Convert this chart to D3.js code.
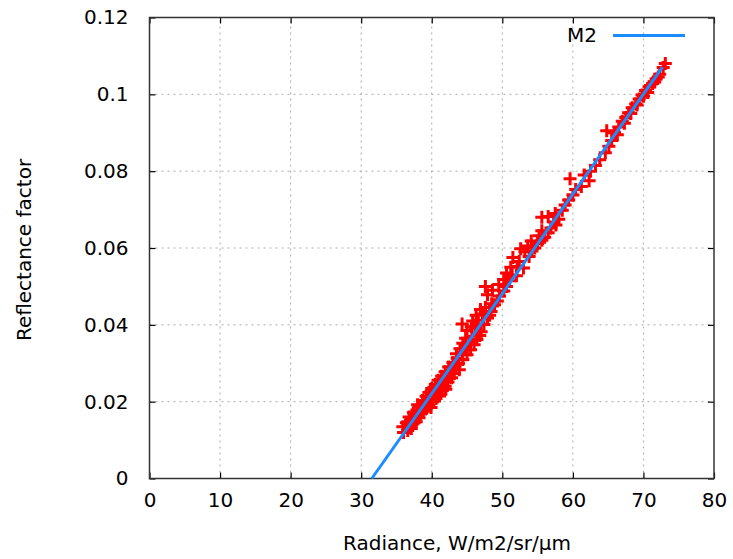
<!DOCTYPE html>
<html>
<head>
<meta charset="utf-8">
<script src="https://cdn.jsdelivr.net/npm/d3@7"></script>
<style>
  body { margin: 0; background: #fff; }
  text { font-family: "DejaVu Sans", sans-serif; fill: #000; }
</style>
</head>
<body>
<svg id="chart"></svg>
<script>
// measured points (radiance, reflectance factor)
const radiance = [
    36.0, 36.6, 35.9, 36.9, 36.4, 37.3, 37.0, 37.8, 36.8, 37.6, 38.2, 37.4, 38.4, 37.9, 38.8,
    38.3, 39.2, 38.0, 38.9, 39.6, 38.7, 39.5, 40.1, 39.2, 40.0, 40.6, 39.6, 40.4, 41.0, 40.0,
    40.9, 41.5, 40.5, 41.3, 41.9, 40.9, 41.8, 42.3, 41.4, 42.2, 42.8, 41.9, 42.7, 43.2, 42.4,
    43.3, 43.0, 43.8, 43.6, 44.4, 43.5, 44.3, 45.0, 44.0, 44.8, 45.5, 44.4, 45.3, 46.0, 44.8,
    45.7, 46.4, 45.0, 45.6, 44.3, 46.2, 47.0, 45.8, 46.6, 47.4, 46.3, 47.2, 47.9, 46.9, 47.6,
    48.4, 48.2, 48.5, 49.3, 47.9, 48.6, 49.6, 47.6, 50.2, 49.5, 50.6, 50.2, 51.0, 51.4, 50.6,
    52.0, 51.2, 51.5, 52.4, 52.1, 53.0, 52.6, 53.2, 53.8, 54.2, 53.6, 54.6, 54.1, 55.0, 55.6,
    55.2, 56.0, 55.6, 56.5, 56.9, 55.6, 56.5, 57.3, 57.6, 58.0, 57.5, 58.5, 58.9, 59.4, 60.0,
    59.6, 60.4, 61.2, 62.3, 61.6, 62.5, 63.2, 63.8, 64.6, 65.1, 65.5, 64.8, 65.9, 66.5, 67.0,
    67.5, 67.9, 68.4, 68.9, 69.4, 69.8, 70.3, 70.8, 71.3, 71.8, 72.3, 72.8, 73.1, 66.3, 67.3,
    68.2, 69.1, 70.0, 70.6, 71.6, 72.1, 37.1, 38.6, 39.9, 41.1, 42.0, 43.9, 46.8, 48.9
];
const reflectance = [
    0.0120, 0.0125, 0.0135, 0.0138, 0.0145, 0.0142, 0.0152, 0.0148, 0.0160, 0.0163, 0.0158, 0.0171, 0.0168, 0.0178, 0.0175,
    0.0186, 0.0182, 0.0192, 0.0195, 0.0190, 0.0203, 0.0206, 0.0199, 0.0214, 0.0216, 0.0208, 0.0224, 0.0228, 0.0219, 0.0234,
    0.0236, 0.0229, 0.0245, 0.0247, 0.0240, 0.0256, 0.0258, 0.0251, 0.0266, 0.0268, 0.0262, 0.0278, 0.0281, 0.0273, 0.0290,
    0.0292, 0.0302, 0.0300, 0.0313, 0.0310, 0.0325, 0.0328, 0.0322, 0.0338, 0.0342, 0.0335, 0.0352, 0.0355, 0.0348, 0.0365,
    0.0370, 0.0362, 0.0385, 0.0395, 0.0402, 0.0392, 0.0382, 0.0410, 0.0412, 0.0401, 0.0425, 0.0428, 0.0418, 0.0440, 0.0445,
    0.0435, 0.0425, 0.0455, 0.0462, 0.0478, 0.0490, 0.0475, 0.0500, 0.0488, 0.0505, 0.0500, 0.0518, 0.0515, 0.0530, 0.0535,
    0.0528, 0.0550, 0.0575, 0.0565, 0.0552, 0.0548, 0.0598, 0.0590, 0.0578, 0.0592, 0.0605, 0.0600, 0.0618, 0.0612, 0.0620,
    0.0632, 0.0628, 0.0645, 0.0640, 0.0652, 0.0680, 0.0682, 0.0668, 0.0660, 0.0675, 0.0690, 0.0698, 0.0712, 0.0725, 0.0738,
    0.0780, 0.0752, 0.0760, 0.0775, 0.0790, 0.0800, 0.0815, 0.0830, 0.0848, 0.0865, 0.0880, 0.0905, 0.0900, 0.0915, 0.0930,
    0.0940, 0.0952, 0.0965, 0.0975, 0.0988, 0.0998, 0.1010, 0.1020, 0.1028, 0.1040, 0.1052, 0.1070, 0.1080, 0.0895, 0.0925,
    0.0950, 0.0972, 0.0995, 0.1005, 0.1032, 0.1045, 0.0130, 0.0172, 0.0185, 0.0215, 0.0232, 0.0283, 0.0372, 0.0452
];

// M2 model line
const fitRadiance = [31.5, 72.7];
const fitReflectance = [0, 0.1071];

const xTicks = [0, 10, 20, 30, 40, 50, 60, 70, 80];
const yTicks = [0, 0.02, 0.04, 0.06, 0.08, 0.1, 0.12];
const yTickLabels = ["0", "0.02", "0.04", "0.06", "0.08", "0.1", "0.12"];

const width = 733, height = 559;
const margin = { left: 149.5, right: 19, top: 17.5, bottom: 80.5 };

const svg = d3.select("#chart")
    .attr("width", width)
    .attr("height", height);

const x = d3.scaleLinear().domain([0, 80]).range([margin.left, width - margin.right]);
const y = d3.scaleLinear().domain([0, 0.12]).range([height - margin.bottom, margin.top]);

// grid
const grid = svg.append("g")
    .attr("stroke", "#aaa")
    .attr("stroke-width", 1)
    .attr("stroke-dasharray", "2,4");

grid.selectAll(".gx")
    .data(xTicks.slice(1, -1))
    .enter()
    .append("line")
    .attr("x1", d => x(d)).attr("x2", d => x(d))
    .attr("y1", y(0)).attr("y2", y(0.12));

grid.selectAll(".gy")
    .data(yTicks.slice(1, -1))
    .enter()
    .append("line")
    .attr("x1", x(0)).attr("x2", x(80))
    .attr("y1", d => y(d)).attr("y2", d => y(d));

// axes (ticks inward, mirrored)
const tickLen = 6;
svg.append("g")
    .attr("transform", `translate(0,${y(0)})`)
    .call(d3.axisBottom(x).tickValues(xTicks).tickSize(-tickLen).tickPadding(14).tickFormat(d3.format("d")))
    .call(g => g.select(".domain").remove());

svg.append("g")
    .attr("transform", `translate(0,${y(0.12)})`)
    .call(d3.axisTop(x).tickValues(xTicks).tickSize(-tickLen).tickFormat(""))
    .call(g => g.select(".domain").remove());

svg.append("g")
    .attr("transform", `translate(${x(0)},0)`)
    .call(d3.axisLeft(y).tickValues(yTicks).tickSize(-tickLen).tickPadding(21).tickFormat((d, i) => yTickLabels[i]))
    .call(g => g.select(".domain").remove());

svg.append("g")
    .attr("transform", `translate(${x(80)},0)`)
    .call(d3.axisRight(y).tickValues(yTicks).tickSize(-tickLen).tickFormat(""))
    .call(g => g.select(".domain").remove());

svg.selectAll(".tick line").attr("stroke", "#000").attr("stroke-width", 1.2);
svg.selectAll(".tick text").attr("font-size", 20).attr("font-family", "DejaVu Sans");

// border
svg.append("rect")
    .attr("x", x(0)).attr("y", y(0.12))
    .attr("width", x(80) - x(0)).attr("height", y(0) - y(0.12))
    .attr("fill", "none")
    .attr("stroke", "#333")
    .attr("stroke-width", 1.5);

// data points as "+"
const pts = d3.range(radiance.length).map(i => ({ r: radiance[i], f: reflectance[i] }));
const s = 6.5;
svg.append("g")
    .selectAll("path")
    .data(pts)
    .enter()
    .append("path")
    .attr("d", d => {
        const px = x(d.r), py = y(d.f);
        return `M${px - s},${py}H${px + s}M${px},${py - s}V${py + s}`;
    })
    .attr("stroke", "#ff0000")
    .attr("stroke-width", 3)
    .attr("fill", "none");

// model line
const fit = fitRadiance.map((r, i) => [r, fitReflectance[i]]);
svg.append("path")
    .datum(fit)
    .attr("d", d3.line().x(d => x(d[0])).y(d => y(d[1])))
    .attr("stroke", "#1a8cff")
    .attr("stroke-width", 3)
    .attr("fill", "none");

// legend
svg.append("text")
    .attr("x", 597).attr("y", 42)
    .attr("text-anchor", "end")
    .attr("font-size", 20)
    .text("M2");
svg.append("line")
    .attr("x1", 613).attr("x2", 685)
    .attr("y1", 35.5).attr("y2", 35.5)
    .attr("stroke", "#1a8cff")
    .attr("stroke-width", 3);

// axis titles
svg.append("text")
    .attr("x", 457).attr("y", 550)
    .attr("text-anchor", "middle")
    .attr("font-size", 20)
    .text("Radiance, W/m2/sr/µm");

svg.append("text")
    .attr("transform", "translate(31,250) rotate(-90)")
    .attr("text-anchor", "middle")
    .attr("font-size", 20)
    .text("Reflectance factor");
</script>
</body>
</html>
